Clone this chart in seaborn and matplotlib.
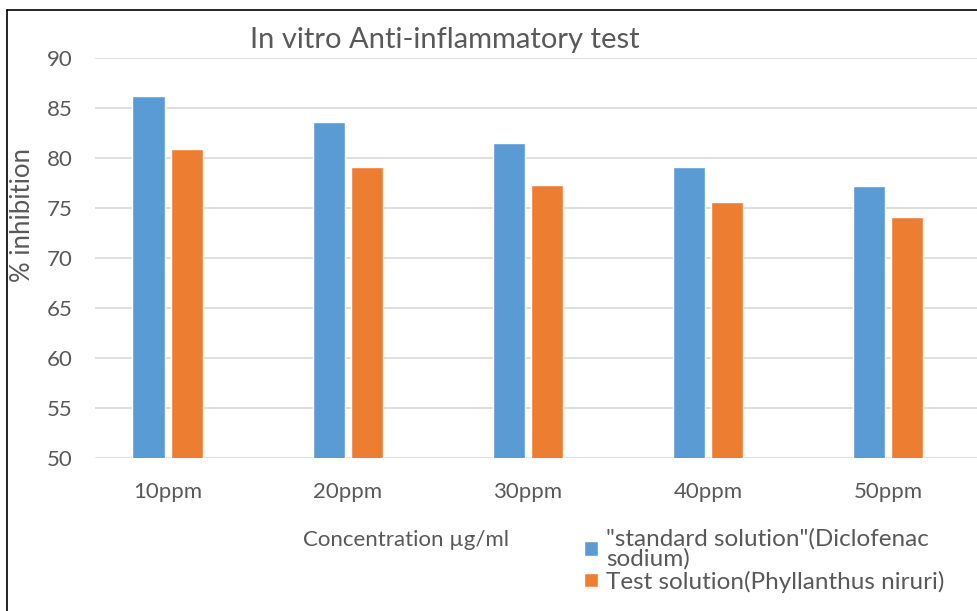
import pandas as pd
import numpy as np
import seaborn as sns
import matplotlib.pyplot as plt
from matplotlib.lines import Line2D

# Values
concentrations = ['10ppm', '20ppm', '30ppm', '40ppm', '50ppm']
standard = [86.2, 83.6, 81.5, 79.1, 77.2]
test = [80.9, 79.1, 77.3, 75.6, 74.1]
series_names = ['"standard solution"(Diclofenac\nsodium)', 'Test solution(Phyllanthus niruri)']

df = pd.DataFrame({
    'concentration': concentrations * 2,
    'inhibition': standard + test,
    'solution': [series_names[0]] * 5 + [series_names[1]] * 5,
})

sns.set_theme(style='white')
plt.rcParams['font.family'] = ['Lato', 'DejaVu Sans']

fig = plt.figure(figsize=(9.78, 6.11), dpi=100)
ax = fig.add_axes([95 / 978, 1 - 458 / 611, 1 - 95 / 978, 400 / 611])

palette = {series_names[0]: '#5B9BD5', series_names[1]: '#ED7D31'}
sns.barplot(data=df, x='concentration', y='inhibition', hue='solution',
            palette=palette, width=0.43, gap=0.17, ax=ax, legend=True,
            saturation=1)

ax.set_ylim(50, 90)
ax.set_xlim(-0.405, 4.5)
ax.set_yticks(range(50, 91, 5))
ax.yaxis.grid(True, color='#D9D9D9', linewidth=1.2)
ax.set_axisbelow(True)
for s in ax.spines.values():
    s.set_visible(False)
ax.tick_params(axis='both', length=0, labelsize=16, labelcolor='#595959')
ax.tick_params(axis='x', pad=17)
ax.tick_params(axis='y', pad=16)

ax.set_xlabel('')
ax.set_ylabel('% inhibition', fontsize=18.5, color='#595959')
ax.yaxis.set_label_coords(-0.068, 0.6075)

fig.text(445 / 978, 1 - 40 / 611, 'In vitro Anti-inflammatory test',
         ha='center', va='center', fontsize=21, color='#595959')
fig.text(406 / 978, 1 - 540 / 611, 'Concentration µg/ml',
         ha='center', va='center', fontsize=16, color='#595959')

handles, labels = ax.get_legend_handles_labels()
ax.get_legend().remove()
leg = fig.legend(handles, labels, loc='upper left', bbox_to_anchor=(572 / 978, 1 - 516 / 611),
                 frameon=False, fontsize=17.5, handlelength=0.55, handleheight=0.55,
                 handletextpad=0.35, labelspacing=0.05, labelcolor='#595959',
                 borderpad=0)
for t in leg.get_texts():
    t.set_linespacing(0.9)

# outer frame of the original figure (left and top edges)
fig.add_artist(Line2D([7 / 978, 7 / 978], [0, 1 - 10 / 611], transform=fig.transFigure,
                      color='black', linewidth=1.2))
fig.add_artist(Line2D([7 / 978, 1], [1 - 10 / 611, 1 - 10 / 611], transform=fig.transFigure,
                      color='black', linewidth=1.2))

fig.savefig('out.png', dpi=100)
